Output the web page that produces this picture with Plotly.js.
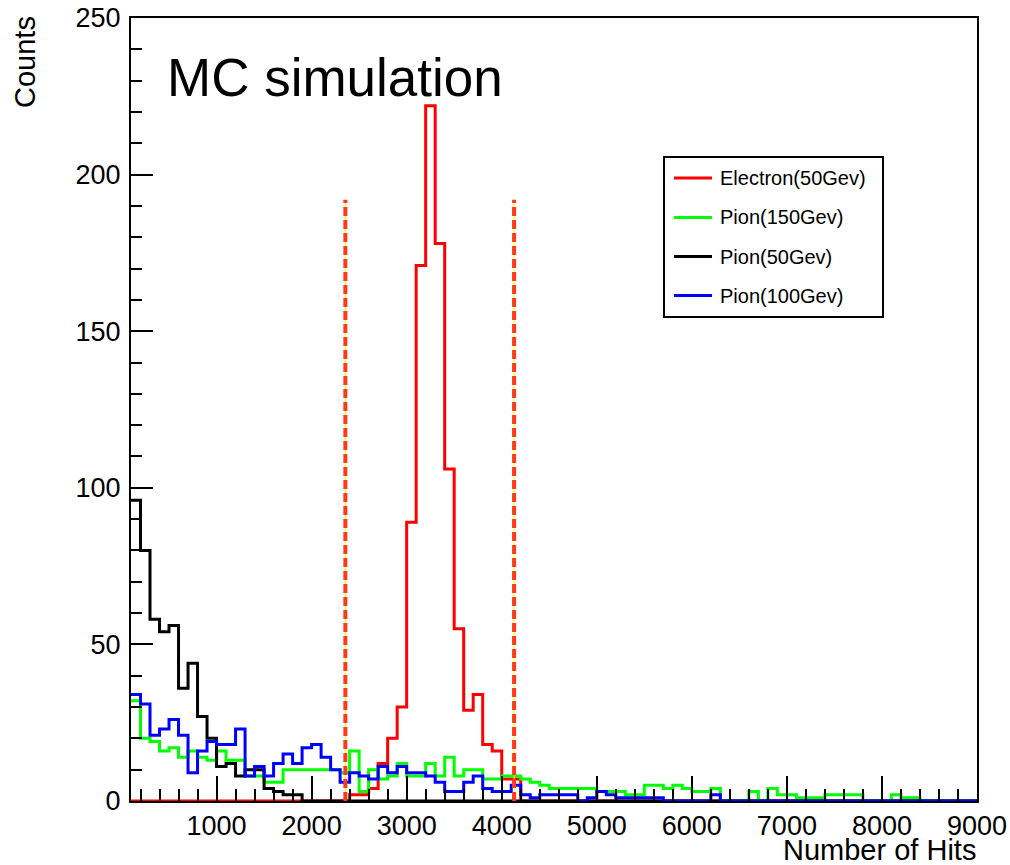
<!DOCTYPE html>
<html>
<head>
<meta charset="utf-8">
<script src="https://cdn.plot.ly/plotly-3.0.1.min.js"></script>
<style>
  html, body { margin: 0; padding: 0; background: #fff; }
  #chart { width: 1010px; height: 865px; }
</style>
</head>
<body>
<div id="chart"></div>
<script>
// ---------- data ----------
const binStart = 100;
const binWidth = 100;
const seriesNames = ["Electron(50Gev)", "Pion(150Gev)", "Pion(50Gev)", "Pion(100Gev)"];
const seriesColors = ["#ff0000", "#00ff00", "#000000", "#0000ff"];

const electron50 = [
  0,0,0,0,0,0,0,0,0,0, 0,0,0,0,0,0,0,0,0,0, 0,0,0,
  2,2,4,12,20,30,89,171,222,178,106,55,29,34,18,16,7,7,
  0,0,0,0,0,0,0,0,0,0, 0,0,0,0,0,0,0,0,0,0, 0,0,0,0,0,0,0,0,0,0,
  0,0,0,0,0,0,0,0,0,0, 0,0,0,0,0,0,0,0
];
const pion150 = [
  32,20,19,16,17,14,16,14,13,16, 13,13,8,8,6,6,10,10,10,10, 10,10,9,
  16,3,10,7,8,12,8,8,12,8,14,8,10,10,7,7,8,8,
  7,6,5,4,4,4,4,4,3,3, 3,2,2,5,5,4,5,4,3,3, 4,0,0,0,3,0,4,2,2,1,
  1,1,2,2,2,2,0,0,0,2, 1,1,0,0,0,0,0,0
];
const pion50 = [
  96,80,58,54,56,36,44,27,20,11, 12,8,10,10,4,3,2,2,
  0,0,0,0,0,0,0,0,0,0,0,0,0,0,0,0,0,0,0,0,0,0,0,
  0,0,0,0,0,0,0,0,0,0, 0,0,0,0,0,0,0,0,0,0, 0,0,0,0,0,0,0,0,0,0,
  0,0,0,0,0,0,0,0,0,0, 0,0,0,0,0,0,0,0
];
const pion100 = [
  34,31,21,23,26,21,9,16,19,18, 18,23,8,11,8,12,15,12,17,18,
  14,10,6,9,8,7,11,9,11,9, 9,8,6,3,3,6,8,4,3,3, 5,
  2,1,2,2,2,2,0,1,3,2, 1,1,1,1,1,0,0,0,0,0, 2,
  0,0,0,0,0,0,0,0,0,0, 0,0,0,0,0,0,0,0,0,0, 0,0,0,0,0,0,0
];
const seriesValues = [electron50, pion150, pion50, pion100];

const cutLow = 2355;
const cutHigh = 4130;
const cutTop = 192;

const xTitle = "Number of Hits";
const yTitle = "Counts";
const label = "MC simulation";

// ---------- layout geometry ----------
const W = 1010, H = 865;
const ml = 131, mr = 33, mt = 18, mb = 64;
const pw = W - ml - mr, ph = H - mt - mb;
const px2x = p => (p - ml) / pw;
const px2y = p => 1 - (p - mt) / ph;
const FONT = "Liberation Sans, Arial, Helvetica, sans-serif";

function stepTrace(vals, name, color) {
  const xs = [], ys = [];
  for (let i = 0; i < vals.length; i++) { xs.push(binStart + i * binWidth); ys.push(vals[i]); }
  xs.push(binStart + vals.length * binWidth); ys.push(vals[vals.length - 1]);
  return { x: xs, y: ys, type: "scatter", mode: "lines", name: name,
           line: { shape: "hv", color: color, width: 3 }, showlegend: false, hoverinfo: "skip" };
}

const traces = seriesValues.map((v, i) => stepTrace(v, seriesNames[i], seriesColors[i]));

const shapes = [];
[cutLow, cutHigh].forEach(c => {
  shapes.push({ type: "line", xref: "x", yref: "y", x0: c, x1: c, y0: 0, y1: cutTop,
                line: { color: "#ffff00", width: 1 } });
  shapes.push({ type: "line", xref: "x", yref: "y", x0: c, x1: c, y0: 0, y1: cutTop,
                line: { color: "#ff3a1a", width: 4, dash: "9px,4px" } });
});

// manual legend box
const legL = 664, legR = 883, legT = 157, legB = 317;
shapes.push({ type: "rect", xref: "paper", yref: "paper",
              x0: px2x(legL), x1: px2x(legR), y0: px2y(legB), y1: px2y(legT),
              line: { color: "#000", width: 2 }, fillcolor: "rgba(255,255,255,1)", layer: "above" });
const annotations = [];
const legRows = [178, 217.5, 256.5, 295.5];
seriesNames.forEach((n, i) => {
  shapes.push({ type: "line", xref: "paper", yref: "paper",
                x0: px2x(674), x1: px2x(712), y0: px2y(legRows[i]), y1: px2y(legRows[i]),
                line: { color: seriesColors[i], width: 3 } });
  annotations.push({ xref: "paper", yref: "paper", x: px2x(718), y: px2y(legRows[i]),
                     xanchor: "left", yanchor: "middle", showarrow: false, text: n,
                     font: { family: FONT, size: 20, color: "#000" } });
});

annotations.push({ xref: "paper", yref: "paper", x: px2x(978), y: px2y(850), xanchor: "right", yanchor: "middle",
                   showarrow: false, text: xTitle, font: { family: FONT, size: 29, color: "#000" } });
annotations.push({ xref: "paper", yref: "paper", x: px2x(25), y: px2y(14), xanchor: "center", yanchor: "top",
                   textangle: -90, showarrow: false, text: yTitle, font: { family: FONT, size: 29, color: "#000" } });
annotations.push({ xref: "paper", yref: "paper", x: px2x(165), y: px2y(78), xanchor: "left", yanchor: "middle",
                   showarrow: false, text: label, font: { family: FONT, size: 53, color: "#000" } });

const layout = {
  width: W, height: H,
  margin: { l: ml, r: mr, t: mt, b: mb, pad: 0 },
  paper_bgcolor: "#fff", plot_bgcolor: "#fff",
  showlegend: false,
  font: { family: FONT, color: "#000" },
  xaxis: {
    range: [binStart, 9000], showgrid: false, zeroline: false,
    showline: true, linecolor: "#000", linewidth: 2, mirror: true,
    ticks: "inside", tick0: 0, dtick: 1000, ticklen: 25, tickwidth: 2, tickcolor: "#000",
    minor: { ticks: "inside", dtick: 200, ticklen: 12, tickwidth: 2, tickcolor: "#000" },
    tickfont: { family: FONT, size: 27, color: "#000" }
  },
  yaxis: {
    range: [0, 250], showgrid: false, zeroline: false,
    showline: true, linecolor: "#000", linewidth: 2, mirror: true,
    ticks: "inside", tick0: 0, dtick: 50, ticklen: 22, tickwidth: 2, tickcolor: "#000",
    minor: { ticks: "inside", dtick: 10, ticklen: 11, tickwidth: 2, tickcolor: "#000" },
    tickfont: { family: FONT, size: 27, color: "#000" }, ticklabelstandoff: 3
  },
  shapes: shapes,
  annotations: annotations
};

Plotly.newPlot("chart", traces, layout, { displayModeBar: false, staticPlot: true });
</script>
</body>
</html>
